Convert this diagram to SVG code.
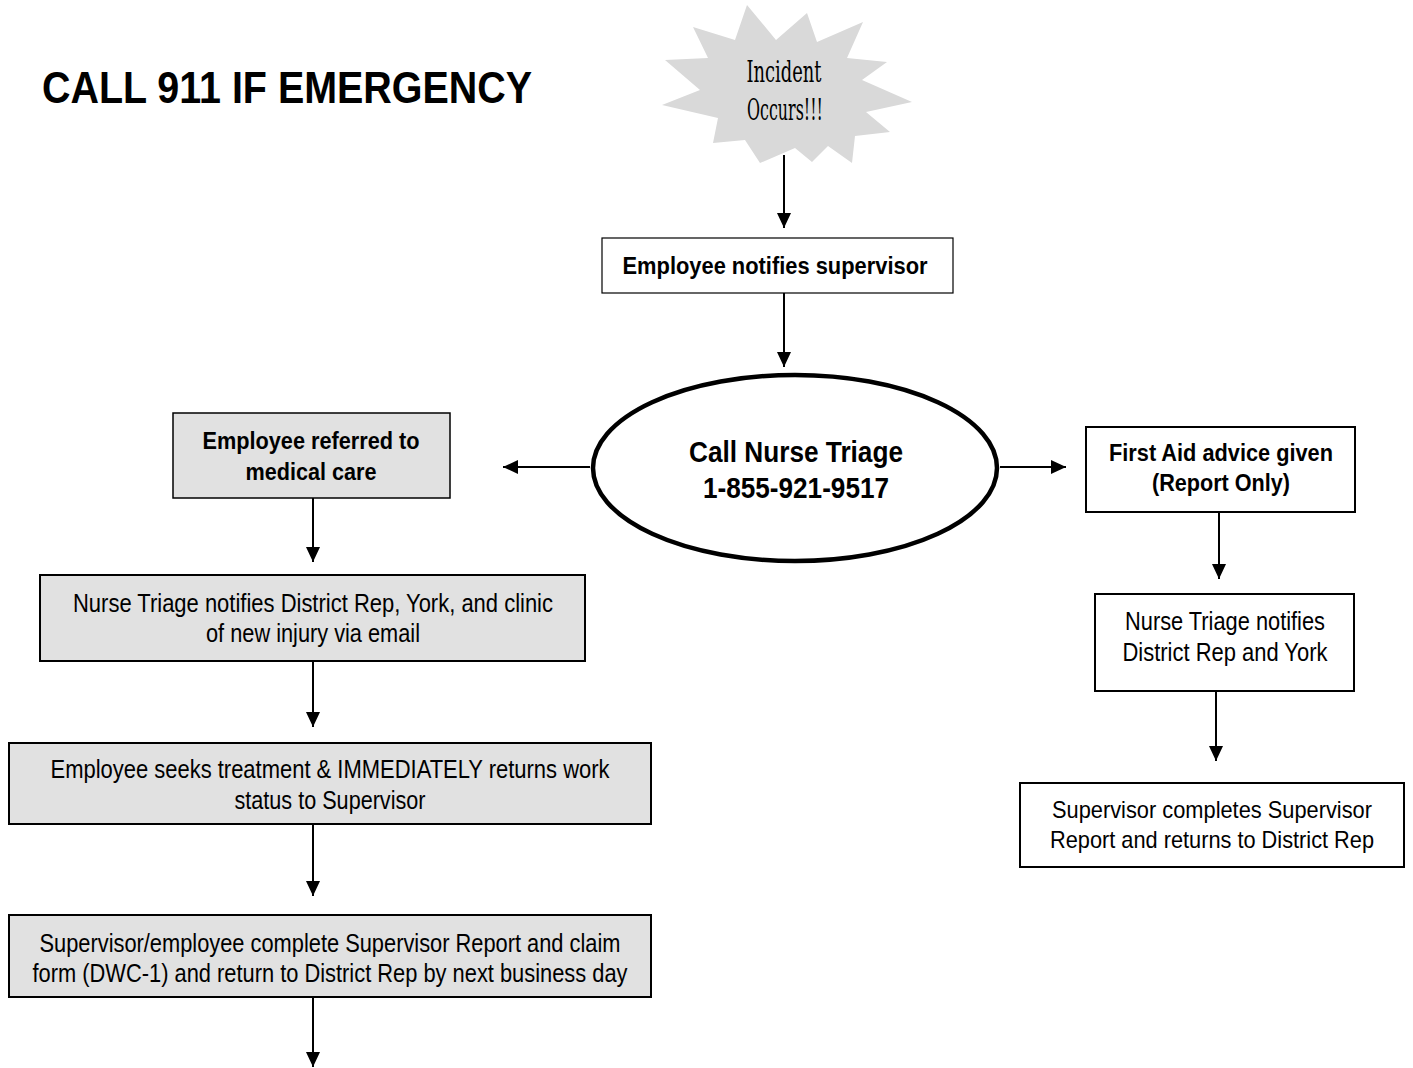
<svg xmlns="http://www.w3.org/2000/svg" width="1413" height="1068" viewBox="0 0 1413 1068">
<defs>
<marker id="ah" markerUnits="userSpaceOnUse" markerWidth="14" markerHeight="16" refX="15" refY="7" orient="auto">
<path d="M0,0 L15,7 L0,14 Z" fill="#000"/>
</marker>
<style>
.t{font-family:"Liberation Sans",Arial,sans-serif;font-size:25px;fill:#000;text-anchor:middle}
.b{font-weight:bold;font-size:23px}
.s{font-size:24px}
.gray{fill:#e1e1e1;stroke:#000;stroke-width:2}
.white{fill:#fff;stroke:#000;stroke-width:2}
.c line{stroke:#000;stroke-width:2;marker-end:url(#ah)}
</style>
</defs>
<rect width="1413" height="1068" fill="#fff"/>

<g id="title">
<text x="42" y="103" style="font-family:'Liberation Sans',Arial,sans-serif;font-weight:bold;font-size:44px" textLength="490" lengthAdjust="spacingAndGlyphs">CALL 911 IF EMERGENCY</text>
</g>

<g id="incident">
<polygon fill="#d9d9d9" points="747,5 776,40 807,13 817,42 863,22 847,58 887,62 862,80 912,102 866,112 890,132 855,136 852,163 828,146 812,162 795,148 760,163 745,140 713,143 718,118 662,105 700,90 665,60 708,58 693,27 735,40"/>
<text x="784" y="82" style="font-family:'DejaVu Serif','Liberation Serif',serif;font-size:29px;text-anchor:middle" textLength="75" lengthAdjust="spacingAndGlyphs">Incident</text>
<text x="785" y="120" style="font-family:'DejaVu Serif','Liberation Serif',serif;font-size:29px;text-anchor:middle" textLength="76" lengthAdjust="spacingAndGlyphs">Occurs!!!</text>
</g>

<g id="notify">
<rect x="602" y="238" width="351" height="55" fill="#fff" stroke="#000" stroke-width="1.2"/>
<text class="t b" x="775" y="274" textLength="305" lengthAdjust="spacingAndGlyphs">Employee notifies supervisor</text>
</g>

<g id="triage">
<ellipse cx="795" cy="468" rx="202" ry="93" fill="#fff" stroke="#000" stroke-width="4.5"/>
<text class="t" x="796" y="462" style="font-weight:bold;font-size:29px" textLength="214" lengthAdjust="spacingAndGlyphs">Call Nurse Triage</text>
<text class="t" x="796" y="498" style="font-weight:bold;font-size:29px" textLength="186" lengthAdjust="spacingAndGlyphs">1-855-921-9517</text>
</g>

<g id="referred">
<rect x="173" y="413" width="277" height="85" fill="#e1e1e1" stroke="#000" stroke-width="1.5"/>
<text class="t b" x="311" y="449" textLength="217" lengthAdjust="spacingAndGlyphs">Employee referred to</text>
<text class="t b" x="311" y="480" textLength="131" lengthAdjust="spacingAndGlyphs">medical care</text>
</g>

<g id="nurse-notifies-clinic">
<rect class="gray" x="40" y="575" width="545" height="86"/>
<text class="t" x="313" y="612" textLength="480" lengthAdjust="spacingAndGlyphs">Nurse Triage notifies District Rep, York, and clinic</text>
<text class="t" x="313" y="642" textLength="214" lengthAdjust="spacingAndGlyphs">of new injury via email</text>
</g>

<g id="treatment">
<rect class="gray" x="9" y="743" width="642" height="81"/>
<text class="t" x="330" y="778" textLength="559" lengthAdjust="spacingAndGlyphs">Employee seeks treatment &amp; IMMEDIATELY returns work</text>
<text class="t" x="330" y="809" textLength="191" lengthAdjust="spacingAndGlyphs">status to Supervisor</text>
</g>

<g id="claim-form">
<rect class="gray" x="9" y="915" width="642" height="82"/>
<text class="t" x="330" y="952" textLength="581" lengthAdjust="spacingAndGlyphs">Supervisor/employee complete Supervisor Report and claim</text>
<text class="t" x="330" y="982" textLength="595" lengthAdjust="spacingAndGlyphs">form (DWC-1) and return to District Rep by next business day</text>
</g>

<g id="first-aid">
<rect class="white" x="1086" y="427" width="269" height="85"/>
<text class="t b" x="1221" y="461" textLength="224" lengthAdjust="spacingAndGlyphs">First Aid advice given</text>
<text class="t b" x="1221" y="491" textLength="138" lengthAdjust="spacingAndGlyphs">(Report Only)</text>
</g>

<g id="nurse-notifies-york">
<rect class="white" x="1095" y="594" width="259" height="97"/>
<text class="t" x="1225" y="630" textLength="200" lengthAdjust="spacingAndGlyphs">Nurse Triage notifies</text>
<text class="t" x="1225" y="661" textLength="205" lengthAdjust="spacingAndGlyphs">District Rep and York</text>
</g>

<g id="supervisor-report">
<rect class="white" x="1020" y="783" width="384" height="84"/>
<text class="t s" x="1212" y="818" textLength="320" lengthAdjust="spacingAndGlyphs">Supervisor completes Supervisor</text>
<text class="t s" x="1212" y="848" textLength="324" lengthAdjust="spacingAndGlyphs">Report and returns to District Rep</text>
</g>

<g id="connectors" class="c">
<line x1="784" y1="155" x2="784" y2="228"/>
<line x1="784" y1="293" x2="784" y2="367"/>
<line x1="590" y1="467" x2="503" y2="467"/>
<line x1="1000" y1="467" x2="1066" y2="467"/>
<line x1="313" y1="498" x2="313" y2="562"/>
<line x1="313" y1="661" x2="313" y2="727"/>
<line x1="313" y1="824" x2="313" y2="896"/>
<line x1="313" y1="997" x2="313" y2="1067"/>
<line x1="1219" y1="512" x2="1219" y2="579"/>
<line x1="1216" y1="691" x2="1216" y2="761"/>
</g>
</svg>
